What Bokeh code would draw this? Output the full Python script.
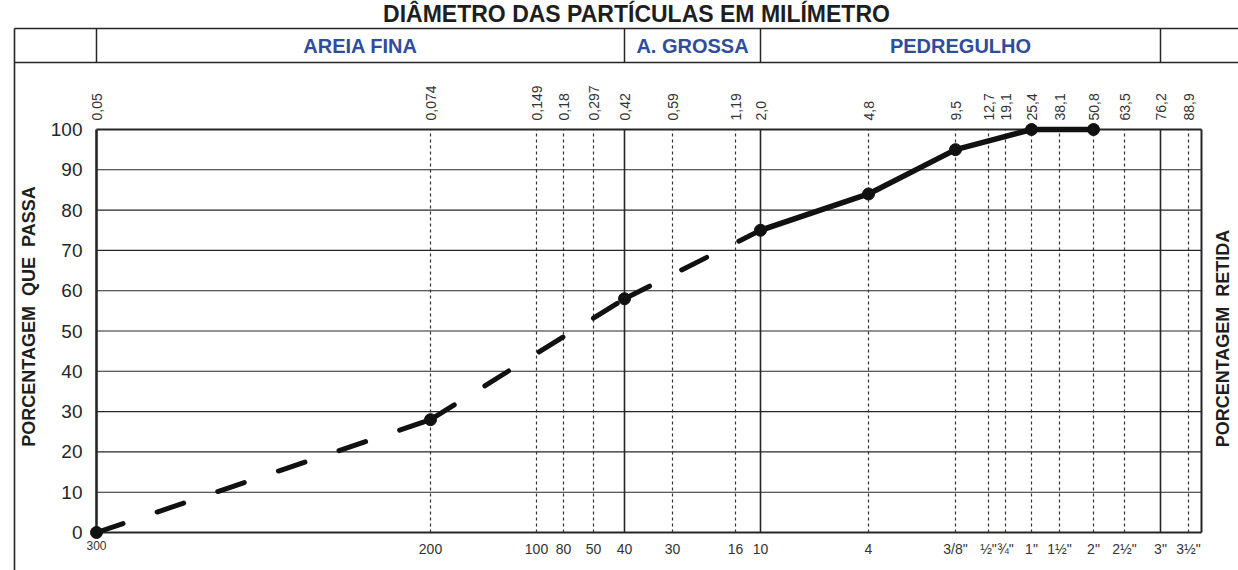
import numpy as np
from bokeh.plotting import figure
from bokeh.models import Range1d
from bokeh.embed import file_html
from bokeh.resources import INLINE
from bokeh.core.properties import value

# ---------------- data ----------------
# sieve openings (mm) and their place on the chart's own (non-log) horizontal scale
sieve_mm = [0.05, 0.074, 0.149, 0.18, 0.297, 0.42, 0.59, 1.19, 2.0, 4.8, 9.5,
            12.7, 19.1, 25.4, 38.1, 50.8, 63.5, 76.2, 88.9]
sieve_pos = [0, 334, 440, 467, 497, 528, 576, 639, 664, 772, 859,
             892, 909, 935, 963, 997, 1028, 1064, 1092]
scale_end = 1105
top_labels = ["0,05", "0,074", "0,149", "0,18", "0,297", "0,42", "0,59", "1,19", "2,0",
              "4,8", "9,5", "12,7", "19,1", "25,4", "38,1", "50,8", "63,5", "76,2", "88,9"]
bottom_labels = ["300", "200", "100", "80", "50", "40", "30", "16", "10", "4",
                 '3/8"', '½"', '¾"', '1"', '1½"', '2"', '2½"', '3"', '3½"']
solid_sieves = [0.42, 2.0, 76.2]
y_ticks = [0, 10, 20, 30, 40, 50, 60, 70, 80, 90, 100]

# granulometric result
diam_mm = [0.05, 0.074, 0.42, 2.0, 4.8, 9.5, 25.4, 50.8]
passing = [0, 28, 58, 75, 84, 95, 100, 100]
dashed_until_mm = 2.0

zone_names = ["AREIA FINA", "A. GROSSA", "PEDREGULHO"]
zone_bounds_mm = [0.05, 0.42, 2.0, 76.2]

title_text = "DIÂMETRO DAS PARTÍCULAS EM MILÍMETRO"
ylabel_left = "PORCENTAGEM \u00a0QUE \u00a0PASSA"
ylabel_right = "PORCENTAGEM \u00a0RETIDA"

# ---------------- layout helpers ----------------
W, H = 1238, 570
Y100_IMG, Y0_IMG = 129, 532  # image rows of 100 % and 0 %
X0_IMG = 96                  # image column of the scale origin
PX = 100.0 / (Y0_IMG - Y100_IMG)


def vy(img_y):
    return (Y0_IMG - img_y) * PX


def vx(img_x):
    return img_x - X0_IMG


def to_pos(mm):
    return np.interp(np.log(mm), np.log(sieve_mm), sieve_pos)


FONT = value("Liberation Sans")
INK = "#262626"
BLUE = "#2e4d9c"

p = figure(width=W, height=H,
           x_range=Range1d(vx(0), vx(W)),
           y_range=Range1d(vy(H), vy(0)),
           output_backend="svg", toolbar_location=None, min_border=0)
p.axis.visible = False
p.grid.visible = False
p.outline_line_color = None
p.title.visible = False

# ---------------- grid ----------------
hx0 = [0] * len(y_ticks)
hx1 = [scale_end] * len(y_ticks)
hw = [2.2 if t in (0, 100) else 1.1 for t in y_ticks]
p.segment(x0=hx0, y0=y_ticks, x1=hx1, y1=y_ticks, line_color=INK, line_width=hw)

dot_x = [sp for mm, sp in zip(sieve_mm[1:], sieve_pos[1:]) if mm not in solid_sieves]
sol_x = [sp for mm, sp in zip(sieve_mm, sieve_pos) if mm in solid_sieves]
p.segment(x0=dot_x, y0=[0] * len(dot_x), x1=dot_x, y1=[100] * len(dot_x),
          line_color="#333333", line_width=1.2, line_dash="3 3")
p.segment(x0=sol_x, y0=[0] * len(sol_x), x1=sol_x, y1=[100] * len(sol_x),
          line_color=INK, line_width=1.6)
p.segment(x0=[0, scale_end], y0=[0, 0], x1=[0, scale_end], y1=[100, 100],
          line_color=INK, line_width=[2.6, 2.0])

# ---------------- header ----------------
hy_top, hy_bot = vy(28), vy(62)
x_left, x_right = vx(14), vx(W + 5)
p.segment(x0=[x_left, x_left], y0=[hy_top, hy_bot], x1=[x_right, x_right], y1=[hy_top, hy_bot],
          line_color=INK, line_width=1.6)
zb = [float(to_pos(m)) for m in zone_bounds_mm]
p.segment(x0=zb, y0=[hy_bot] * len(zb), x1=zb, y1=[hy_top] * len(zb),
          line_color=INK, line_width=1.5)
p.segment(x0=[x_left], y0=[hy_top], x1=[x_left], y1=[vy(H + 5)],
          line_color=INK, line_width=1.6)
zc = [(zb[i] + zb[i + 1]) / 2 for i in range(len(zone_names))]
p.text(x=zc, y=[(hy_top + hy_bot) / 2] * len(zc), text=zone_names,
       text_font=FONT, text_font_style="bold", text_font_size="20px",
       text_color=BLUE, text_align="center", text_baseline="middle")
p.text(x=[vx(636)], y=[vy(13)], text=[title_text], text_font=FONT,
       text_font_style="bold", text_font_size="23px", text_color="#1e1e1e",
       text_align="center", text_baseline="middle")

# ---------------- tick labels ----------------
p.text(x=[vx(82)] * len(y_ticks), y=y_ticks, text=[str(t) for t in y_ticks],
       text_font=FONT, text_font_size="19px", text_color=INK,
       text_align="right", text_baseline="middle")
p.text(x=sieve_pos, y=[100 + 9 * PX] * len(sieve_pos), text=top_labels,
       angle=np.pi / 2, text_font=FONT, text_font_size="14px", text_color="#333333",
       text_align="left", text_baseline="middle")
p.text(x=sieve_pos[1:], y=[-16 * PX] * (len(sieve_pos) - 1), text=bottom_labels[1:],
       text_font=FONT, text_font_size="14px", text_color="#333333",
       text_align="center", text_baseline="middle")
p.text(x=sieve_pos[:1], y=[-13 * PX], text=bottom_labels[:1],
       text_font=FONT, text_font_size="12px", text_color="#333333",
       text_align="center", text_baseline="middle")

# axis titles
p.text(x=[vx(28)], y=[vy(316)], text=[ylabel_left], angle=np.pi / 2,
       text_font=FONT, text_font_style="bold", text_font_size="18px", text_color="#1e1e1e",
       text_align="center", text_baseline="middle")
p.text(x=[vx(1222)], y=[vy(338)], text=[ylabel_right], angle=np.pi / 2,
       text_font=FONT, text_font_style="bold", text_font_size="18px", text_color="#1e1e1e",
       text_align="center", text_baseline="middle")

# ---------------- curve ----------------
cx = [float(v) for v in to_pos(diam_mm)]
dxs, dys, sx, sy = [], [], [], []
for i in range(len(diam_mm) - 1):
    if diam_mm[i + 1] <= dashed_until_mm:
        dxs.append([cx[i], cx[i + 1]])
        dys.append([passing[i], passing[i + 1]])
for i in range(len(diam_mm)):
    if diam_mm[i] >= dashed_until_mm:
        sx.append(cx[i])
        sy.append(passing[i])
p.multi_line(xs=dxs, ys=dys, line_color="#111111", line_width=5,
             line_dash="28 36", line_cap="round")
p.line(sx, sy, line_color="#111111", line_width=5.5, line_join="round")
p.scatter(cx, passing, size=12, color="#111111")

open("out.html", "w").write(file_html(p, INLINE))
